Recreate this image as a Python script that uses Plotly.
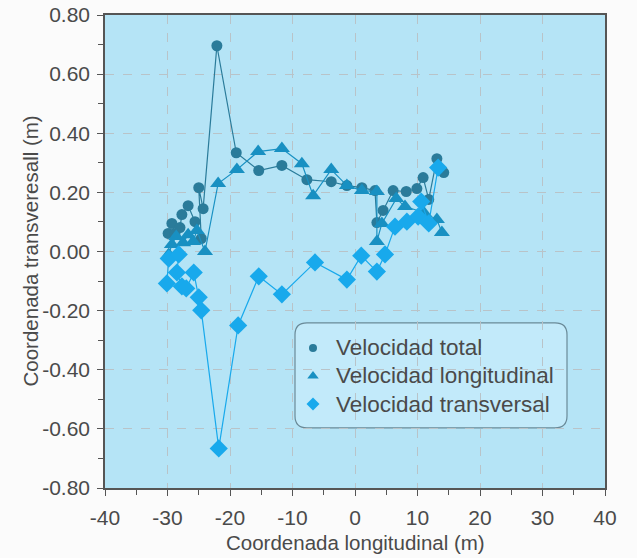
import plotly.graph_objects as go

# Velocidad total (circles)
total_x = [-29.9, -29.3, -28.8, -28.0, -27.7, -26.7, -25.6, -24.6, -25.0, -24.3, -22.1, -19.0, -15.4, -11.7,
           -7.7, -3.8, -1.3, 1.1, 3.2, 3.5, 4.5, 6.1, 8.2, 9.9, 10.9, 11.8, 13.1, 14.2]
total_y = [0.061, 0.095, 0.061, 0.081, 0.125, 0.155, 0.101, 0.044, 0.216, 0.145, 0.696, 0.334, 0.274, 0.291,
           0.243, 0.236, 0.223, 0.216, 0.206, 0.098, 0.139, 0.206, 0.203, 0.213, 0.250, 0.176, 0.314, 0.267]

# Velocidad longitudinal (triangles)
long_x = [-29.8, -29.3, -28.6, -27.5, -26.7, -25.9, -25.3, -24.0, -21.9, -18.9, -15.5, -11.7, -8.5, -6.7,
          -3.8, -1.3, 1.1, 3.5, 3.5, 4.3, 6.6, 8.0, 11.0, 13.1, 13.9]
long_y = [-0.010, 0.024, 0.051, 0.030, 0.057, 0.034, 0.071, 0.000, 0.230, 0.277, 0.338, 0.348, 0.297, 0.189,
          0.277, 0.223, 0.206, 0.203, 0.034, 0.095, 0.179, 0.152, 0.132, 0.108, 0.064]

# Velocidad transversal (diamonds)
trans_x = [-30.1, -29.8, -28.2, -28.5, -27.7, -27.0, -25.8, -25.0, -24.6, -21.8, -18.7, -15.4, -11.7, -6.4,
           -1.3, 1.0, 3.5, 4.8, 6.4, 8.3, 10.1, 10.6, 11.8, 13.3]
trans_y = [-0.108, -0.024, -0.010, -0.071, -0.118, -0.125, -0.071, -0.155, -0.199, -0.666, -0.250, -0.084,
           -0.145, -0.037, -0.095, -0.014, -0.068, -0.010, 0.084, 0.101, 0.118, 0.169, 0.095, 0.284]

series_names = ["Velocidad total", "Velocidad longitudinal", "Velocidad transversal"]

x_ticks = [-40, -30, -20, -10, 0, 10, 20, 30, 40]
x_ticktext = [str(v) for v in x_ticks]
y_ticks = [0.8, 0.6, 0.4, 0.2, 0.0, -0.2, -0.4, -0.6, -0.8]
y_ticktext = ["%.2f" % v for v in y_ticks]

x_title = "Coordenada longitudinal (m)"
y_title = "Coordenada transveresall (m)"

c_total = "#2a7b9a"
c_long = "#1890c2"
c_trans = "#18a9ec"
font_family = "Liberation Sans, Arial, sans-serif"
text_color = "#4a4a4a"

fig = go.Figure()
specs = [
    (total_x, total_y, c_total, "circle", 11, series_names[0]),
    (long_x, long_y, c_long, "triangle-up", 14, series_names[1]),
    (trans_x, trans_y, c_trans, "diamond", 14, series_names[2]),
]
for xs, ys, col, sym, sz, name in specs:
    fig.add_trace(go.Scatter(x=xs, y=ys, mode="lines+markers", name=name, showlegend=False,
                             line=dict(color=col, width=1.2),
                             marker=dict(color=col, symbol=sym, size=sz)))

# custom legend (overlay axes in 0..1 units of the plot area)
leg_mx, leg_tx = 0.416, 0.458
leg_ys = [0.296, 0.2368, 0.1776]
for (xs, ys, col, sym, sz, name), ly in zip(specs, leg_ys):
    fig.add_trace(go.Scatter(x=[leg_mx], y=[ly], mode="markers", xaxis="x2", yaxis="y2",
                             showlegend=False, hoverinfo="skip",
                             marker=dict(color=col, symbol=sym, size=10 if sym != "circle" else 8)))
    fig.add_annotation(x=leg_tx, y=ly, xref="x2", yref="y2", text=name, showarrow=False,
                       xanchor="left", yanchor="middle", font=dict(size=22.5, color=text_color))

# rounded legend box
x0, x1, y0, y1 = 0.38, 0.924, 0.127, 0.349
rx, ry = 0.024, 0.025
path = (f"M {x0+rx},{y0} L {x1-rx},{y0} Q {x1},{y0} {x1},{y0+ry} L {x1},{y1-ry} Q {x1},{y1} {x1-rx},{y1} "
        f"L {x0+rx},{y1} Q {x0},{y1} {x0},{y1-ry} L {x0},{y0+ry} Q {x0},{y0} {x0+rx},{y0} Z")
fig.add_shape(type="path", path=path, xref="paper", yref="paper",
              line=dict(color="#6a8a98", width=1.2), fillcolor="#c2eafa", layer="below")

# axis titles
fig.add_annotation(x=0.5, y=-0.116, xref="paper", yref="paper", text=x_title, showarrow=False,
                   xanchor="center", yanchor="middle", font=dict(size=20.5, color=text_color))
fig.add_annotation(x=-0.15, y=0.5, xref="paper", yref="paper", text=y_title, showarrow=False,
                   textangle=-90, xanchor="center", yanchor="middle", font=dict(size=20.5, color=text_color))

fig.update_layout(
    width=637, height=558,
    margin=dict(l=105, r=32, t=15, b=70),
    paper_bgcolor="#fbfbfb",
    plot_bgcolor="#b5e4f6",
    font=dict(family=font_family, size=21, color=text_color),
    showlegend=False,
    xaxis2=dict(overlaying="x", range=[0, 1], visible=False, fixedrange=True),
    yaxis2=dict(overlaying="y", range=[0, 1], visible=False, fixedrange=True),
    xaxis=dict(range=[-40, 40], tickvals=x_ticks, ticktext=x_ticktext, ticks="outside", ticklen=6,
               tickcolor="#555", tickfont=dict(size=21), automargin=False, ticklabelstandoff=4,
               showgrid=True, gridcolor="#b9c3c8", griddash="dash", gridwidth=1,
               showline=True, linecolor="#555", linewidth=1.5, mirror=True, zeroline=False,
               minor=dict(dtick=5, ticks="outside", ticklen=5, tickcolor="#555", showgrid=False)),
    yaxis=dict(range=[-0.8, 0.8], tickvals=y_ticks, ticktext=y_ticktext, ticks="outside", ticklen=6,
               tickcolor="#555", tickfont=dict(size=21), automargin=False, ticklabelstandoff=3,
               showgrid=True, gridcolor="#b9c3c8", griddash="dash", gridwidth=1,
               showline=True, linecolor="#555", linewidth=1.5, mirror=True, zeroline=False,
               minor=dict(dtick=0.1, ticks="outside", ticklen=5, tickcolor="#555", showgrid=False)),
)

fig.write_html("out.html")
